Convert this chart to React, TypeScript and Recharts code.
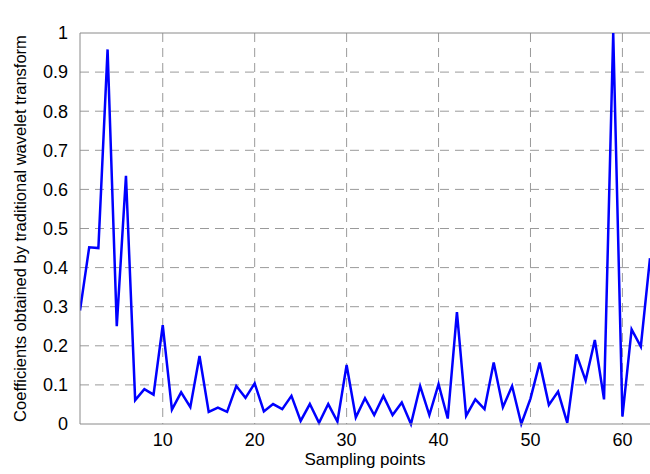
import React from 'react';
import { LineChart, Line, XAxis, YAxis, CartesianGrid, ReferenceLine } from 'recharts';

const samplePoints = Array.from({ length: 63 }, (_, i) => i + 1);

const coefficients = [
  0.29, 0.452, 0.45, 0.958, 0.25, 0.635, 0.061, 0.089, 0.075, 0.253,
  0.037, 0.081, 0.043, 0.174, 0.031, 0.042, 0.031, 0.097, 0.067, 0.104,
  0.032, 0.051, 0.038, 0.072, 0.008, 0.051, 0.003, 0.051, 0.006, 0.151,
  0.017, 0.066, 0.023, 0.072, 0.023, 0.055, 0.0, 0.097, 0.023, 0.102,
  0.014, 0.286, 0.021, 0.063, 0.038, 0.157, 0.043, 0.097, 0.0, 0.065,
  0.157, 0.049, 0.083, 0.003, 0.178, 0.111, 0.215, 0.063, 1.0, 0.019,
  0.242, 0.198, 0.424,
];

const xTicks = [10, 20, 30, 40, 50, 60];
const yTicks = [0, 0.1, 0.2, 0.3, 0.4, 0.5, 0.6, 0.7, 0.8, 0.9, 1];

const data = samplePoints.map((x, i) => ({ x, value: coefficients[i] }));

const font = '"Liberation Sans", Arial, sans-serif';

export default function App() {
  return (
    <div style={{ position: 'absolute', left: 0, top: 0, width: 650, height: 474, background: '#fff' }}>
      <LineChart width={650} height={474} data={data} margin={{ top: 33, right: 0, bottom: 0, left: 0 }}>
        <CartesianGrid
          stroke="#9a9a9a"
          strokeDasharray="9 6"
          verticalValues={xTicks}
          horizontalValues={yTicks.filter((t) => t > 0 && t < 1)}
          syncWithTicks={false}
        />
        <XAxis
          dataKey="x"
          type="number"
          domain={[1, 63]}
          ticks={xTicks}
          allowDataOverflow
          height={50}
          tickLine={false}
          axisLine={{ stroke: '#8a8a8a' }}
          tick={{ fontSize: 18, fill: '#000', fontFamily: font }}
          tickMargin={3}
          label={{ value: 'Sampling points', position: 'insideBottom', offset: 9, fontSize: 17, fill: '#000', fontFamily: font }}
        />
        <YAxis
          type="number"
          domain={[0, 1]}
          ticks={yTicks}
          width={80}
          tickLine={false}
          axisLine={{ stroke: '#8a8a8a' }}
          tick={{ fontSize: 18, fill: '#000', fontFamily: font }}
          tickMargin={6}
          label={{
            value: 'Coefficients obtained by traditional wavelet transform',
            angle: -90,
            position: 'insideLeft',
            offset: 20,
            style: { textAnchor: 'middle', fontSize: 16.5, fill: '#000', fontFamily: font },
          }}
        />
        <ReferenceLine y={1} stroke="#8a8a8a" />
        <Line
          type="linear"
          dataKey="value"
          stroke="#0000ff"
          strokeWidth={2.5}
          dot={false}
          isAnimationActive={false}
        />
      </LineChart>
    </div>
  );
}
